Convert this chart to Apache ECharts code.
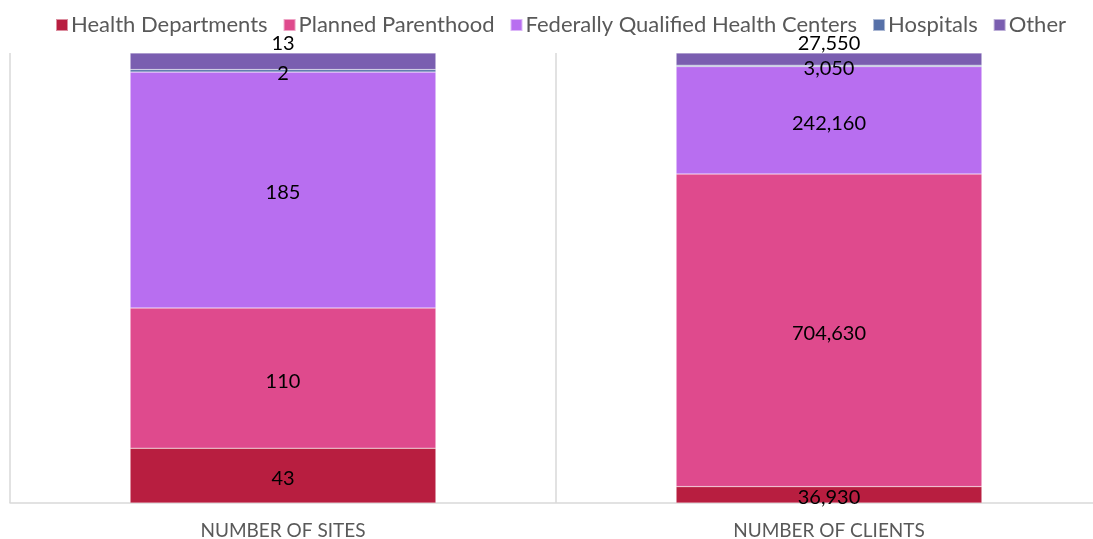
<!DOCTYPE html>
<html>
<head>
<meta charset="utf-8">
<script src="https://cdn.jsdelivr.net/npm/echarts@6/dist/echarts.min.js"></script>
<style>
  html, body { margin: 0; padding: 0; background: #fff; }
  #chart { width: 1093px; height: 539px; }
</style>
</head>
<body>
<div id="chart"></div>
<script>
const categories = ['NUMBER OF SITES', 'NUMBER OF CLIENTS'];
const seriesNames = ['Health Departments', 'Planned Parenthood', 'Federally Qualified Health Centers', 'Hospitals', 'Other'];
const healthDepartments = [43, 36930];
const plannedParenthood = [110, 704630];
const fqhc = [185, 242160];
const hospitals = [2, 3050];
const other = [13, 27550];
const colors = ['#B81E40', '#DF4A8D', '#B86EF0', '#5670A8', '#7A5EB0'];

const raw = [healthDepartments, plannedParenthood, fqhc, hospitals, other];
const totals = categories.map((c, i) => raw.reduce((s, arr) => s + arr[i], 0));

const chart = echarts.init(document.getElementById('chart'));

const series = raw.map((arr, k) => ({
  name: seriesNames[k],
  type: 'bar',
  stack: 'total',
  barWidth: '56%',
  itemStyle: { color: colors[k], borderColor: 'rgba(255,255,255,0.5)', borderWidth: 0.5 },
  data: arr.map((v, i) => ({ value: v / totals[i] * 100, raw: v })),
  label: {
    show: true,
    position: k === 4 ? 'top' : 'inside',
    distance: 0,
    offset: k === 4 ? [0, 1] : [0, 3],
    color: '#000',
    fontSize: 20,
    fontFamily: 'Lato',
    formatter: p => p.data.raw.toLocaleString('en-US')
  }
}));

chart.setOption({
  animation: false,
  color: colors,
  legend: {
    top: 9,
    left: 50,
    itemWidth: 12,
    itemHeight: 12,
    itemGap: 15,
    icon: 'rect',
    textStyle: { color: '#595959', fontSize: 22, fontFamily: 'Lato', padding: [0, 0, 0, -2] },
    data: seriesNames
  },
  grid: { left: 10, width: 1092, top: 53, bottom: 36, containLabel: false, outerBoundsMode: 'none' },
  xAxis: {
    type: 'category',
    data: categories,
    axisLine: { lineStyle: { color: '#d9d9d9', width: 1.5 } },
    axisTick: { show: false },
    splitLine: { show: true, lineStyle: { color: '#d9d9d9', width: 1.5 } },
    axisLabel: { color: '#595959', fontSize: 19, fontFamily: 'Lato', margin: 18 }
  },
  yAxis: {
    type: 'value',
    min: 0,
    max: 100,
    show: false,
    splitLine: { show: false }
  },
  series: series
});
</script>
</body>
</html>
